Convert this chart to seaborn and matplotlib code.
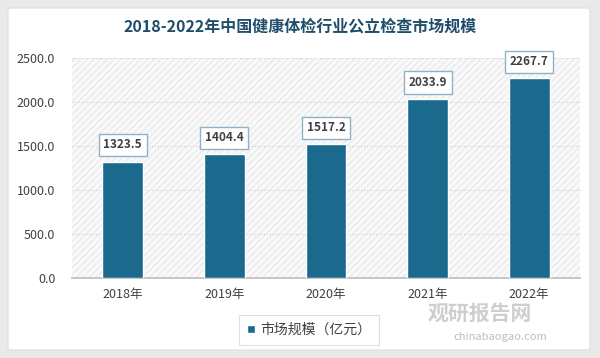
import seaborn as sns
import matplotlib.pyplot as plt
import pandas as pd
from matplotlib.patches import FancyBboxPatch, Rectangle

# chart data
years = ['2018年', '2019年', '2020年', '2021年', '2022年']
market_size = [1323.5, 1404.4, 1517.2, 2033.9, 2267.7]
y_ticks = [0, 500, 1000, 1500, 2000, 2500]
title = '2018-2022年中国健康体检行业公立检查市场规模'
series_name = '市场规模（亿元）'

bar_color = '#1b6a8e'
df = pd.DataFrame({'year': years, 'value': market_size})

sns.set_theme(style='white')
plt.rcParams['font.family'] = ['Noto Sans CJK SC', 'DejaVu Sans']

fig = plt.figure(figsize=(6, 3.58), dpi=100)
fig.patch.set_facecolor('#e9e9e9')

# white card behind the chart
card = FancyBboxPatch((8 / 600, 8 / 358), 582 / 600, 342 / 358,
                      boxstyle='round,pad=0,rounding_size=0.005',
                      transform=fig.transFigure, facecolor='white',
                      edgecolor='#dddddd', linewidth=0.8, zorder=-5)
fig.patches.append(card)

ax = fig.add_axes([72 / 600, 1 - 278 / 358, 508 / 600, 220 / 358])
ax.set_facecolor('none')

# faint hatched plot background
bg = Rectangle((0, 0), 1, 1, transform=ax.transAxes, facecolor='#f9f9f9',
               edgecolor='#ebebeb', hatch='/////', linewidth=0, zorder=0)
ax.add_patch(bg)

sns.barplot(data=df, x='year', y='value', color=bar_color, width=0.4,
            saturation=1, ax=ax, zorder=3, label=series_name)

for p, v in zip(ax.containers[0], market_size):
    ax.annotate(f'{v:.1f}', (p.get_x() + p.get_width() / 2, p.get_height()),
                xytext=(0, 12), textcoords='offset points',
                ha='center', va='center', fontsize=8.5, fontweight='bold',
                color='#404040', zorder=5,
                bbox=dict(boxstyle='square,pad=0.4', facecolor='white',
                          edgecolor='#8db3c4', linewidth=1))

ax.set_xlim(-0.5, 4.5)
ax.set_ylim(0, 2500)
ax.set_yticks(y_ticks)
ax.set_yticklabels([f'{t:.1f}' for t in y_ticks])
ax.yaxis.grid(True, linestyle=':', color='#d0d0d0', linewidth=0.8, zorder=1)
ax.set_axisbelow(True)
ax.set_xlabel('')
ax.set_ylabel('')
for s in ['top', 'right', 'left']:
    ax.spines[s].set_visible(False)
ax.spines['bottom'].set_color('#bfbfbf')
ax.tick_params(axis='y', length=0, labelsize=9, colors='#404040', pad=12)
ax.tick_params(axis='x', length=0, labelsize=9, colors='#404040', pad=7)
if ax.legend_:
    ax.legend_.remove()

fig.text(0.5, 1 - 27 / 358, title, ha='center', va='center', fontsize=11.5,
         fontweight='bold', color='#1f4d6b')

handles, labels = ax.get_legend_handles_labels()
leg = fig.legend(handles, labels, loc='center', bbox_to_anchor=(309 / 600, 1 - 330 / 358),
                 frameon=True, fontsize=10, handlelength=0.55, handleheight=0.55,
                 borderpad=0.6, handletextpad=0.4, borderaxespad=0,
                 fancybox=False)
leg.get_frame().set_edgecolor('#d9d9d9')
leg.get_frame().set_linewidth(0.8)
for t in leg.get_texts():
    t.set_color('#404040')

# watermark
fig.text(480 / 600, 1 - 313 / 358, '观研报告网', ha='center', va='center',
         fontsize=15, fontweight='bold', color='#c9c9c9', alpha=0.9, zorder=10)
fig.text(500 / 600, 1 - 337 / 358, 'chinabaogao.com', ha='center', va='center',
         fontsize=8, color='#bdbdbd', zorder=10)

plt.savefig('out.png', dpi=100, facecolor=fig.get_facecolor())
